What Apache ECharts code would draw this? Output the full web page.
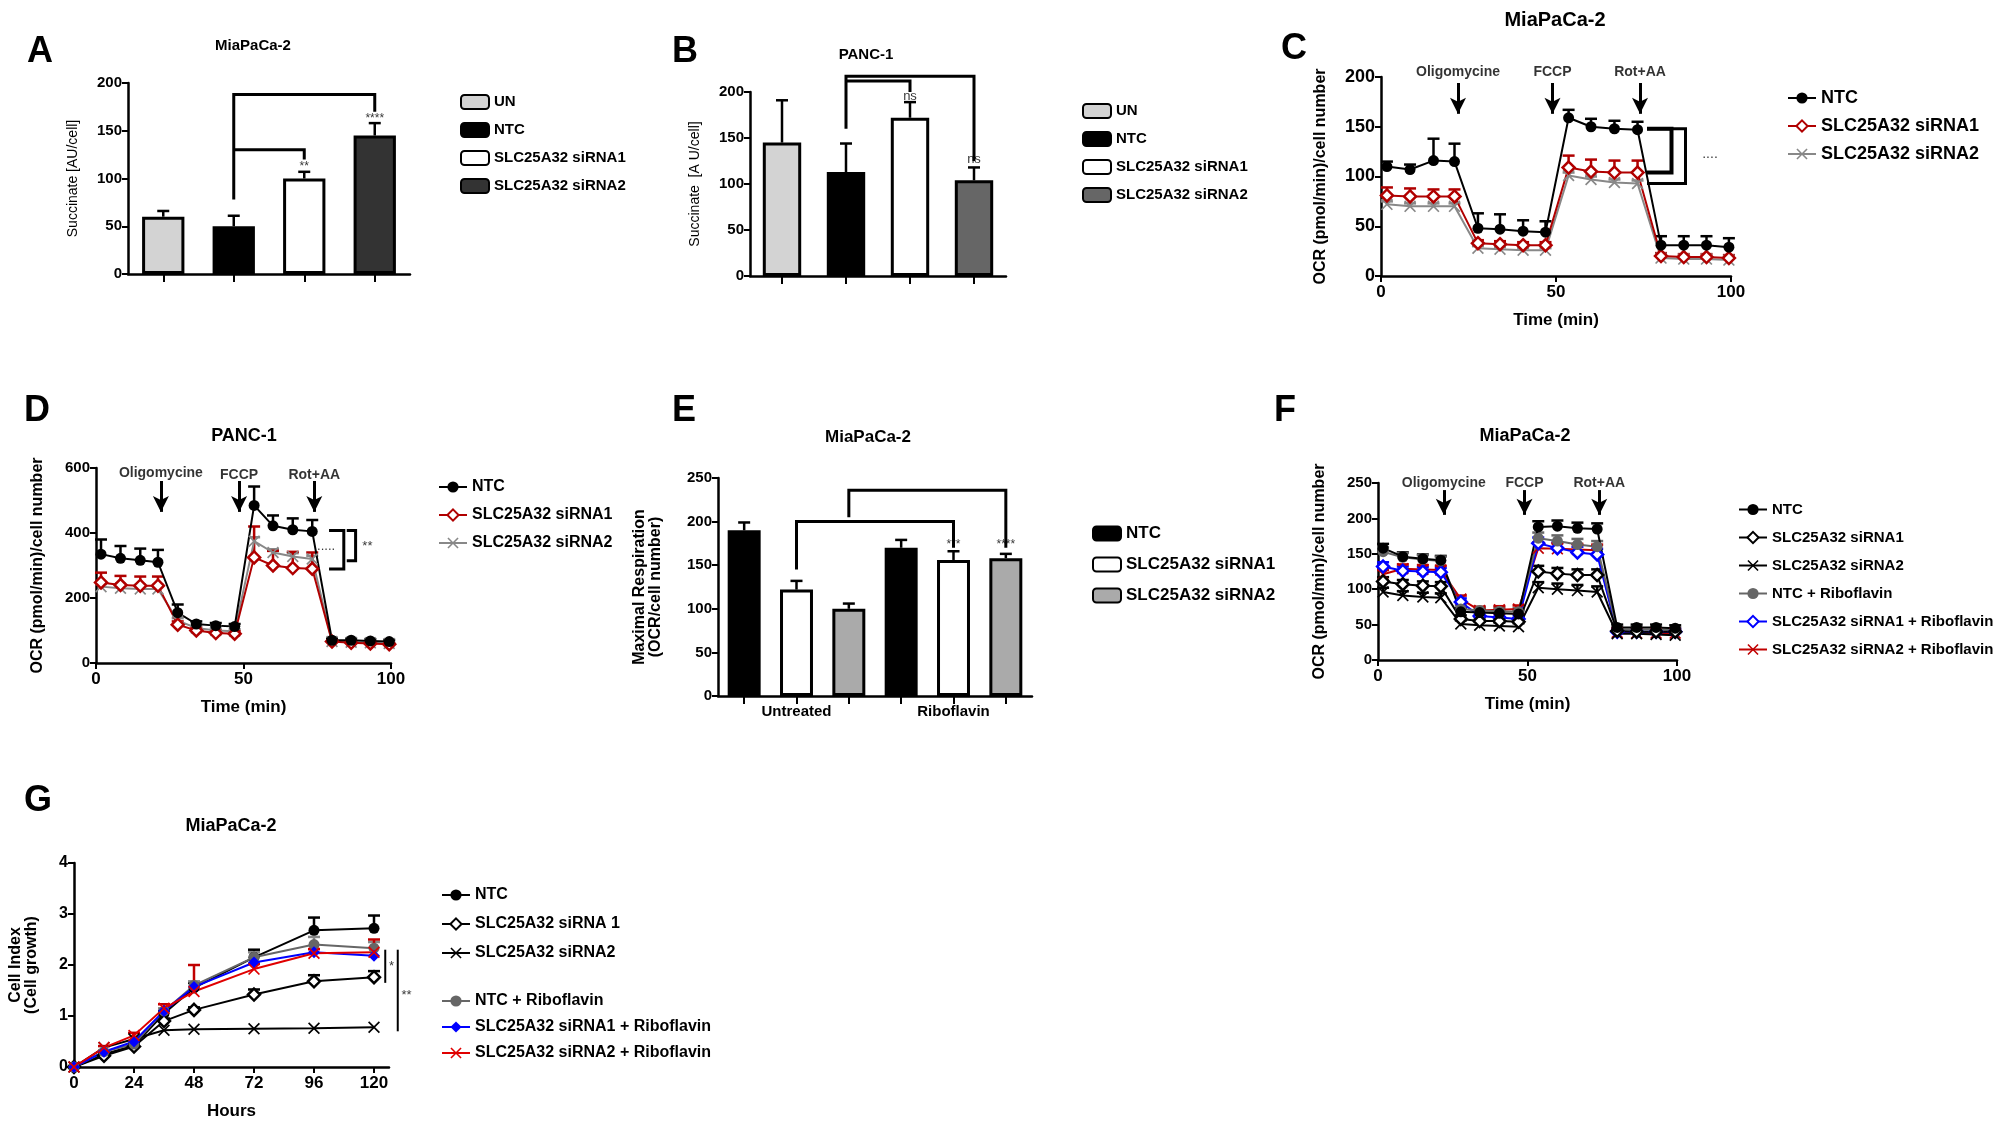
<!DOCTYPE html>
<html><head><meta charset="utf-8">
<script src="https://cdn.jsdelivr.net/npm/echarts@6/dist/echarts.min.js"></script>
<style>html,body{margin:0;background:#fff}#c{width:2000px;height:1124px}</style>
</head><body><div id="c"></div>
<script>
// ---------- DATA ----------
const succCats = ['UN','NTC','SLC25A32 siRNA1','SLC25A32 siRNA2'];
const succA = [60,50,100,145], succAErr = [6,11,7,13];
const succB = [145,113,172,104], succBErr = [46,31,17,14];
const ocrTime = [1.7,8.3,15,21,27.7,34,40.6,47,53.6,60,66.7,73.3,80,86.5,93,99.4];
const cNTC = [110,107,116,115,48,47,45,44,159,150,148,147,31,31,31,29];
const cNTCErr = [5,5,22,18,15,15,11,11,8,8,8,8,9,9,9,9];
const cSi1 = [81,80,80,80,33,32,31,31,109,105,104,104,20,19,19,18];
const cSi1Err = [8,8,7,7,3,3,3,3,12,12,12,12,3,3,3,3];
const cSi2 = [72,70,70,70,28,27,26,26,101,97,94,93,18,17,17,16];
const cSi2Err = [3,3,3,3,2,2,2,2,3,3,3,3,2,2,2,2];
const dNTC = [335,322,316,310,155,120,115,112,485,422,410,405,70,70,68,66];
const dNTCErr = [45,38,36,38,25,8,8,8,58,32,35,35,5,5,5,5];
const dSi1 = [248,240,238,238,118,100,92,90,325,300,292,290,66,62,60,58];
const dSi1Err = [30,28,28,28,10,8,8,8,95,45,50,50,3,3,3,3];
const dSi2 = [235,230,228,228,130,108,100,98,375,340,328,320,66,64,62,60];
const dSi2Err = [8,8,8,8,8,6,6,6,12,10,10,10,3,3,3,3];
const eCats = ['Untreated','Riboflavin'];
const eNTC = [190,170], eNTCErr = [9,9];
const eSi1 = [122,156], eSi1Err = [10,10];
const eSi2 = [100,158], eSi2Err = [6,5];
const fNTC = [158,146,143,141,68,67,66,65,188,189,186,185,46,46,46,45];
const fSi1 = [111,107,105,104,58,55,55,54,125,122,120,120,41,40,40,40];
const fSi2 = [96,91,89,88,51,49,48,47,102,100,98,96,37,37,36,35];
const fNTCR = [153,145,142,140,72,70,69,68,172,168,163,160,43,43,43,42];
const fSi1R = [132,126,125,124,82,62,60,58,165,158,152,149,40,40,40,40];
const fSi2R = [121,129,128,127,86,70,71,72,158,157,156,155,39,38,38,38];
const fErr = [6,6,6,6,5,5,5,5,8,8,8,8,4,4,4,4];
const gHours = [0,12,24,36,48,72,96,120];
const gNTC = [0,0.25,0.42,1.05,1.55,2.15,2.68,2.72], gNTCErr = [0,0.03,0.03,0.05,0.1,0.15,0.25,0.25];
const gSi1 = [0,0.22,0.4,0.9,1.12,1.42,1.68,1.76], gSi1Err = [0,0.03,0.03,0.05,0.05,0.1,0.12,0.12];
const gSi2 = [0,0.38,0.55,0.72,0.74,0.75,0.76,0.78];
const gNTCR = [0,0.3,0.45,1.1,1.6,2.15,2.4,2.33], gNTCRErr = [0,0.03,0.03,0.05,0.08,0.1,0.15,0.12];
const gSi1R = [0,0.3,0.5,1.1,1.57,2.05,2.25,2.18];
const gSi2R = [0,0.38,0.62,1.15,1.48,1.92,2.23,2.25], gSi2RErr = [0,0.03,0.05,0.08,0.52,0.1,0.08,0.25];

// ---------- STYLE ----------
const F = 'Liberation Sans Narrow, Liberation Sans, Arial';
const XSYM = 'path://M0,1L1,0L5,4L9,0L10,1L6,5L10,9L9,10L5,6L1,10L0,9L4,5Z';
const grids = [
  {left:128,top:83,width:282,height:191},
  {left:750,top:92,width:256,height:184},
  {left:1381,top:77,width:350,height:199},
  {left:96,top:468,width:295,height:195},
  {left:718,top:478,width:314,height:218},
  {left:1378,top:483,width:299,height:177},
  {left:74,top:863,width:315,height:204}
];
const axLine = {lineStyle:{color:'#000',width:2.5}};
const axTick = {show:true,length:6,lineStyle:{color:'#000',width:2}};
const lab = (s)=>({color:'#000',fontFamily:F,fontWeight:'bold',fontSize:s});
function yAx(gi,max,interval,name,nameGap,bold,fs){
  return {type:'value',gridIndex:gi,min:0,max,interval,splitLine:{show:false},axisLine:{show:true,...axLine},axisTick:axTick,
    axisLabel:{...lab(fs||15),margin:6},name,nameLocation:'middle',nameGap,
    nameTextStyle:{color:'#000',fontFamily:'Liberation Sans, Arial',fontWeight:bold?'bold':'normal',fontSize:bold?16:14}};
}
function xVal(gi,max,interval,name){
  return {type:'value',gridIndex:gi,min:0,max,interval,splitLine:{show:false},axisLine:{onZero:false,...axLine},axisTick:axTick,
    axisLabel:{...lab(17),margin:8,showMaxLabel:max%interval===0},name,nameLocation:'middle',nameGap:36,
    nameTextStyle:{color:'#000',fontFamily:F,fontWeight:'bold',fontSize:17}};
}
function xCat(gi,data,labels){
  return {type:'category',gridIndex:gi,data,axisLine:axLine,axisTick:{...axTick,alignWithLabel:true,length:8},
    axisLabel:{...lab(15),interval:0,formatter:v=>labels.includes(v)?v:''}};
}
function errSeries(gi,xs,ys,es,color){
  return {type:'custom',xAxisIndex:gi,yAxisIndex:gi,silent:true,z:1,clip:false,
    data:xs.map((x,i)=>[x,ys[i],es[i]]),
    renderItem:(p,api)=>{const x=api.value(0),y=api.value(1),e=api.value(2);
      if(!e) return null;
      const a=api.coord([x,y]),b=api.coord([x,y+e]);
      return {type:'group',children:[
        {type:'line',shape:{x1:a[0],y1:a[1],x2:b[0],y2:b[1]},style:{stroke:color,lineWidth:2.5}},
        {type:'line',shape:{x1:b[0]-6,y1:b[1],x2:b[0]+6,y2:b[1]},style:{stroke:color,lineWidth:2.5}}]};}};
}
function lineS(name,gi,xs,ys,color,sym,hollow,lineColor){
  return {type:'line',name,xAxisIndex:gi,yAxisIndex:gi,data:xs.map((x,i)=>[x,ys[i]]),symbol:sym,symbolSize:sym==='circle'?11:12,
    showSymbol:true,lineStyle:{color:lineColor||color,width:2},
    itemStyle:{color:hollow?'#fff':color,borderColor:color,borderWidth:hollow?2.5:0},z:3};
}
function bracket(gi,pts,w){
  return {type:'custom',xAxisIndex:gi,yAxisIndex:gi,data:[pts[0]],clip:false,silent:true,z:4,
    renderItem:(p,api)=>({type:'polyline',shape:{points:pts.map(q=>api.coord(q))},style:{stroke:'#000',lineWidth:w||3,fill:null}})};
}
function txt(gi,pts,size,w){
  return {type:'scatter',xAxisIndex:gi,yAxisIndex:gi,symbolSize:0,clip:false,silent:true,
    data:pts.map(p=>({value:[p[0],p[1]],label:{show:true,formatter:p[2],position:'inside',color:'#000',fontFamily:F,fontWeight:w||'bold',fontSize:size}}))};
}
function arrows(gi,xs,top,bot){
  return {type:'line',xAxisIndex:gi,yAxisIndex:gi,data:[],markLine:{silent:true,symbol:['none','arrow'],symbolSize:[12,16],
    label:{show:false},lineStyle:{color:'#000',width:3,type:'solid'},
    data:xs.map(x=>[{coord:[x,top]},{coord:[x,bot]}])}};
}
const P = (pre,n)=>pre+'|'+n;
function legend(left,top,data,gap,fs){
  return {left,top,orient:'vertical',data,itemGap:gap,itemWidth:28,itemHeight:14,selectedMode:false,
    formatter:n=>n.split('|')[1],textStyle:{color:'#000',fontFamily:F,fontWeight:'bold',fontSize:fs||17}};
}

const series = [];
// ----- A & B bars -----
function barPanel(gi,pre,vals,errs,colors){
  succCats.forEach((c,i)=>{
    series.push({type:'bar',name:P(pre,c),xAxisIndex:gi,yAxisIndex:gi,barWidth:'60%',barGap:'-100%',
      data:vals.map((v,j)=>j===i?v:'-'),itemStyle:{color:colors[i],borderColor:'#000',borderWidth:3}});
  });
  series.push(errSeries(gi,[0,1,2,3],vals,errs,'#000'));
}
barPanel(0,'A',succA,succAErr,['#d3d3d3','#000','#fff','#333']);
barPanel(1,'B',succB,succBErr,['#d3d3d3','#000','#fff','#666']);
series.push(bracket(0,[[1,78],[1,188],[3,188],[3,170]]));
series.push(bracket(0,[[1,130],[2,130],[2,120]]));
series.push(txt(0,[[2,112,'**'],[3,163,'****']],12,'normal'));
series.push(bracket(1,[[1,160],[1,217],[3,217],[3,125]]));
series.push(bracket(1,[[1,212],[2,212],[2,200]]));
series.push(txt(1,[[2,195,'ns'],[3,127,'ns']],13,'normal'));

// ----- C -----
series.push(errSeries(2,ocrTime,cSi2,cSi2Err,'#888'));
series.push(errSeries(2,ocrTime,cSi1,cSi1Err,'#b00000'));
series.push(errSeries(2,ocrTime,cNTC,cNTCErr,'#000'));
series.push(lineS(P('C','SLC25A32 siRNA2'),2,ocrTime,cSi2,'#888',XSYM,false));
series.push(lineS(P('C','SLC25A32 siRNA1'),2,ocrTime,cSi1,'#b00000','diamond',true));
series.push(lineS(P('C','NTC'),2,ocrTime,cNTC,'#000','circle',false));
series.push(arrows(2,[22,49,74],194,163));
series.push(txt(2,[[22,205,'Oligomycine'],[49,205,'FCCP'],[74,205,'Rot+AA']],14));
series.push(bracket(2,[[76,148],[83,148],[83,104],[76,104]],4));
series.push(bracket(2,[[76,148],[87,148],[87,93],[76,93]],3));
series.push(txt(2,[[94,122,'....']],14,'normal'));

// ----- D -----
series.push(errSeries(3,ocrTime,dSi2,dSi2Err,'#888'));
series.push(errSeries(3,ocrTime,dSi1,dSi1Err,'#b00000'));
series.push(errSeries(3,ocrTime,dNTC,dNTCErr,'#000'));
series.push(lineS(P('D','SLC25A32 siRNA2'),3,ocrTime,dSi2,'#888',XSYM,false));
series.push(lineS(P('D','SLC25A32 siRNA1'),3,ocrTime,dSi1,'#b00000','diamond',true));
series.push(lineS(P('D','NTC'),3,ocrTime,dNTC,'#000','circle',false));
series.push(arrows(3,[22,48.5,74],560,465));
series.push(txt(3,[[22,583,'Oligomycine'],[48.5,578,'FCCP'],[74,578,'Rot+AA']],14));
series.push(bracket(3,[[79,408],[84,408],[84,289],[79,289]],3));
series.push(bracket(3,[[85,408],[88,408],[88,315],[85,315]],3));
series.push(txt(3,[[78,358,'.....'],[92,358,'**']],13,'normal'));

// ----- E -----
const eIdx = ['u1','Untreated','u3','r1','Riboflavin','r3'];
[['NTC',eNTC,'#000',0],['SLC25A32 siRNA1',eSi1,'#fff',1],['SLC25A32 siRNA2',eSi2,'#aaa',2]].forEach(([n,v,c,k])=>{
  const d = ['-','-','-','-','-','-']; d[k]=v[0]; d[k+3]=v[1];
  series.push({type:'bar',name:P('E',n),xAxisIndex:4,yAxisIndex:4,barWidth:'63%',barGap:'-100%',data:d,
    itemStyle:{color:c,borderColor:'#000',borderWidth:3}});
});
series.push(errSeries(4,[0,3],eNTC,eNTCErr,'#000'));
series.push(errSeries(4,[1,4],eSi1,eSi1Err,'#000'));
series.push(errSeries(4,[2,5],eSi2,eSi2Err,'#000'));
series.push(bracket(4,[[1,145],[1,200],[4,200],[4,170]]));
series.push(bracket(4,[[2,205],[2,236],[5,236],[5,170]]));
series.push(txt(4,[[4,174,'***'],[5,174,'****']],12,'normal'));

// ----- F -----
const fSet = [['NTC',fNTC,'#000','circle',false],['SLC25A32 siRNA1',fSi1,'#000','diamond',true],['SLC25A32 siRNA2',fSi2,'#000',XSYM,false],
  ['NTC + Riboflavin',fNTCR,'#666','circle',false],['SLC25A32 siRNA1 + Riboflavin',fSi1R,'#0000ff','diamond',true],['SLC25A32 siRNA2 + Riboflavin',fSi2R,'#c00000',XSYM,false]];
fSet.forEach(s=>series.push(errSeries(5,ocrTime,s[1],fErr,s[2])));
fSet.slice().reverse().forEach(s=>series.push(lineS(P('F',s[0]),5,ocrTime,s[1],s[2],s[3],s[4])));
series.push(arrows(5,[22,49,74],240,205));
series.push(txt(5,[[22,250,'Oligomycine'],[49,250,'FCCP'],[74,250,'Rot+AA']],14));

// ----- G -----
series.push(errSeries(6,gHours,gNTC,gNTCErr,'#000'));
series.push(errSeries(6,gHours,gSi1,gSi1Err,'#000'));
series.push(errSeries(6,gHours,gNTCR,gNTCRErr,'#888'));
series.push(errSeries(6,gHours,gSi2R,gSi2RErr,'#c00000'));
const gSet = [['NTC',gNTC,'#000','circle',false,'#000'],['SLC25A32 siRNA 1',gSi1,'#000','diamond',true,'#000'],['SLC25A32 siRNA2',gSi2,'#000',XSYM,false,'#000'],
  ['NTC + Riboflavin',gNTCR,'#666','circle',false,'#666'],['SLC25A32 siRNA1 + Riboflavin',gSi1R,'#0000ff','diamond',false,'#0000ff'],['SLC25A32 siRNA2 + Riboflavin',gSi2R,'#e00000',XSYM,false,'#e00000']];
gSet.forEach(s=>series.push(lineS(P('G',s[0]),6,gHours,s[1],s[2],s[3],s[4],s[5])));
series.push(bracket(6,[[124.5,2.3],[124.5,1.65]],2));
series.push(bracket(6,[[129.5,2.3],[129.5,0.7]],2));
series.push(txt(6,[[127,1.98,'*'],[133,1.4,'**']],13,'normal'));

const letters = [['A',41,54],['B',686,54],['C',1295,51],['D',38,413],['E',686,413],['F',1288,413],['G',38,803]];
const titles = [['MiaPaCa-2',253,46,15],['PANC-1',866,55,15],['MiaPaCa-2',1555,20,20],['PANC-1',244,436,18],['MiaPaCa-2',868,437,17],['MiaPaCa-2',1525,436,18],['MiaPaCa-2',231,826,18]];
const graphic = [
  ...letters.map(([t,x,y])=>({type:'text',left:x-14,top:y-20,style:{text:t,font:'bold 36px Liberation Sans, Arial',fill:'#000'}})),
  ...titles.map(([t,x,y,s])=>({type:'text',x,y,style:{text:t,font:`bold ${s}px ${F}`,fill:'#000',align:'center',verticalAlign:'middle'}}))
];

const option = {
  animation:false, backgroundColor:'#fff', graphic,
  grid: grids,
  xAxis:[xCat(0,succCats,[]),xCat(1,succCats,[]),xVal(2,100,50,'Time (min)'),xVal(3,100,50,'Time (min)'),
    xCat(4,eIdx,eCats),xVal(5,100,50,'Time (min)'),xVal(6,126,24,'Hours')],
  yAxis:[yAx(0,200,50,'Succinate [AU/cell]',48,false),yAx(1,200,50,'Succinate  [A U/cell]',48,false),
    yAx(2,200,50,'OCR (pmol/min)/cell number',52,true,18),yAx(3,600,200,'OCR (pmol/min)/cell number',50,true),
    yAx(4,250,50,'Maximal Respiration\n(OCR/cell number)',54,true),yAx(5,250,50,'OCR (pmol/min)/cell number',50,true),
    yAx(6,4,1,'Cell Index\n(Cell growth)',34,true,16)],
  legend:[
    legend(455,89,succCats.map(c=>P('A',c)),12,15),
    legend(1077,98,succCats.map(c=>P('B',c)),12,15),
    legend(1782,84,['NTC','SLC25A32 siRNA1','SLC25A32 siRNA2'].map(c=>P('C',c)),10,18),
    legend(433,474,['NTC','SLC25A32 siRNA1','SLC25A32 siRNA2'].map(c=>P('D',c)),12,16),
    legend(1087,520,['NTC','SLC25A32 siRNA1','SLC25A32 siRNA2'].map(c=>P('E',c)),14,17),
    legend(1733,497,fSet.map(s=>P('F',s[0])),13,15),
    legend(436,882,gSet.slice(0,3).map(s=>P('G',s[0])),13,16),
    legend(436,988,gSet.slice(3).map(s=>P('G',s[0])),10,16)
  ],
  series
};
echarts.init(document.getElementById('c')).setOption(option);
</script></body></html>
